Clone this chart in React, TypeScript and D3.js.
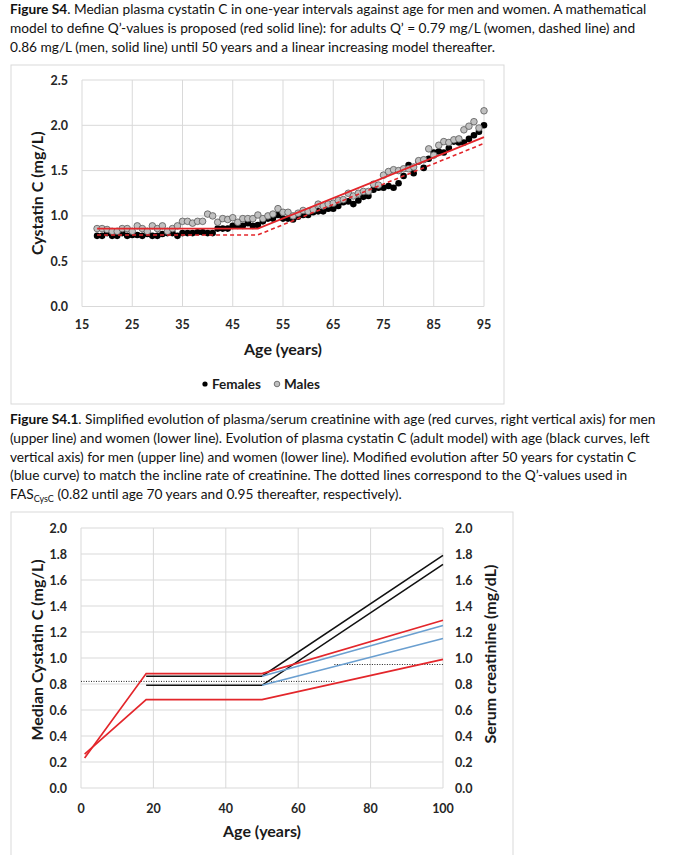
import React from 'react';
import * as d3 from 'd3';

const FONT = 'Lato, "Liberation Sans", sans-serif';
const GRID = '#d9d9d9';
const RED = '#e3262b';
const BLUE = '#6a9fd0';

// Figure S4: median cystatin C per one-year age interval, ages 18..95
const firstAge = 18;
const femalesCysC = [
  0.78, 0.78, 0.81, 0.78, 0.78, 0.81, 0.78, 0.79, 0.79, 0.78,
  0.80, 0.78, 0.78, 0.80, 0.81, 0.81, 0.78, 0.81, 0.81, 0.81,
  0.82, 0.82, 0.81, 0.81, 0.86, 0.86, 0.86, 0.89, 0.89, 0.89,
  0.92, 0.89, 0.90, 0.94, 0.97, 0.97, 1.01, 0.97, 0.97, 0.96,
  0.99, 1.01, 1.01, 1.04, 1.05, 1.05, 1.08, 1.08, 1.11, 1.15,
  1.16, 1.13, 1.17, 1.21, 1.22, 1.29, 1.31, 1.31, 1.33, 1.31,
  1.36, 1.44, 1.56, 1.47, 1.60, 1.53, 1.63, 1.70, 1.71, 1.70,
  1.75, 1.82, 1.81, 1.81, 1.85, 1.89, 1.93, 2.00,
];
const malesCysC = [
  0.86, 0.86, 0.85, 0.83, 0.83, 0.86, 0.86, 0.83, 0.89, 0.86,
  0.83, 0.89, 0.86, 0.89, 0.83, 0.86, 0.89, 0.94, 0.94, 0.92,
  0.94, 0.94, 1.02, 1.00, 0.93, 0.97, 0.96, 0.98, 0.93, 0.97,
  0.97, 0.97, 1.01, 0.97, 1.00, 1.02, 1.08, 1.04, 1.04, 1.00,
  1.03, 1.06, 1.05, 1.07, 1.13, 1.11, 1.13, 1.14, 1.17, 1.18,
  1.25, 1.22, 1.25, 1.27, 1.27, 1.35, 1.34, 1.45, 1.49, 1.51,
  1.50, 1.52, 1.52, 1.54, 1.61, 1.62, 1.74, 1.67, 1.78, 1.82,
  1.81, 1.84, 1.85, 1.95, 1.99, 2.04, 1.97, 2.16,
];
// Q' model lines [age, mg/L]
const modelMen: [number, number][] = [[18, 0.86], [50, 0.86], [95, 1.87]];
const modelWomen: [number, number][] = [[18, 0.79], [50, 0.79], [95, 1.80]];
const topXTicks = [15, 25, 35, 45, 55, 65, 75, 85, 95];
const topYTicks = [0, 0.5, 1.0, 1.5, 2.0, 2.5];

// Figure S4.1: simplified evolution with age [age, value]
const creatMen: [number, number][] = [[1, 0.23], [18, 0.88], [50, 0.88], [100, 1.29]];
const creatWomen: [number, number][] = [[1, 0.26], [18, 0.68], [50, 0.68], [100, 0.99]];
const cysMen: [number, number][] = [[18, 0.86], [50, 0.86], [100, 1.79]];
const cysWomen: [number, number][] = [[18, 0.79], [50, 0.79], [100, 1.72]];
const cysModMen: [number, number][] = [[50, 0.86], [100, 1.25]];
const cysModWomen: [number, number][] = [[50, 0.79], [100, 1.15]];
const qFasYoung: [number, number][] = [[0, 0.82], [70, 0.82]];
const qFasOld: [number, number][] = [[70, 0.95], [100, 0.95]];
const botXTicks = [0, 20, 40, 60, 80, 100];
const botYTicks = [0, 0.2, 0.4, 0.6, 0.8, 1.0, 1.2, 1.4, 1.6, 1.8, 2.0];

const caption1 = [
  'model to define Q\u2019-values is proposed (red solid line): for adults Q\u2019 = 0.79 mg/L (women, dashed line) and',
  '0.86 mg/L (men, solid line) until 50 years and a linear increasing model thereafter.',
];
const caption2 = [
  '(upper line) and women (lower line). Evolution of plasma cystatin C (adult model) with age (black curves, left',
  'vertical axis) for men (upper line) and women (lower line). Modified evolution after 50 years for cystatin C',
  '(blue curve) to match the incline rate of creatinine. The dotted lines correspond to the Q\u2019-values used in',
];

const tickStyle = { fontFamily: FONT, fontSize: 12.5, fontWeight: 700, fill: '#262626' } as const;
const titleStyle = { fontFamily: FONT, fontSize: 16, fontWeight: 700, fill: '#1a1a1a' } as const;
const capStyle = { fontFamily: FONT, fontSize: 13.7, fill: '#111' } as const;

const TopChart = () => {
  const x = d3.scaleLinear().domain([15, 95]).range([82, 484]);
  const y = d3.scaleLinear().domain([0, 2.5]).range([306.5, 80]);
  const line = d3.line<[number, number]>().x(d => x(d[0])).y(d => y(d[1]));
  return (
    <g>
      <rect x={11} y={65} width={493} height={339} fill="#fff" stroke={GRID} />
      {topYTicks.map(t => (
        <g key={t}>
          <line x1={x(15)} x2={x(95)} y1={y(t)} y2={y(t)} stroke={GRID} />
          <text x={68} y={y(t) + 4.5} textAnchor="end" {...tickStyle}>{t.toFixed(1)}</text>
        </g>
      ))}
      {topXTicks.map(t => (
        <g key={t}>
          <line x1={x(t)} x2={x(t)} y1={y(0)} y2={y(2.5)} stroke={GRID} />
          <text x={x(t)} y={329} textAnchor="middle" {...tickStyle}>{t}</text>
        </g>
      ))}
      {femalesCysC.map((v, i) => (
        <circle key={'f' + i} cx={x(firstAge + i)} cy={y(v)} r={3.3} fill="#000" />
      ))}
      {malesCysC.map((v, i) => (
        <circle key={'m' + i} cx={x(firstAge + i)} cy={y(v)} r={3.3} fill="#c0c0c0" stroke="#595959" strokeWidth={0.8} />
      ))}
      <path d={line(modelMen) || ''} fill="none" stroke={RED} strokeWidth={1.8} />
      <path d={line(modelWomen) || ''} fill="none" stroke={RED} strokeWidth={1.6} strokeDasharray="4,3" />
      <text x={283} y={355} textAnchor="middle" {...titleStyle}>Age (years)</text>
      <text transform={`translate(43,${(y(0) + y(2.5)) / 2}) rotate(-90)`} textAnchor="middle" {...titleStyle}>Cystatin C (mg/L)</text>
      <circle cx={205} cy={384} r={2.6} fill="#000" />
      <text x={212} y={389} {...titleStyle} fontSize={13.5}>Females</text>
      <circle cx={277} cy={384} r={2.8} fill="#c0c0c0" stroke="#595959" strokeWidth={0.8} />
      <text x={284} y={389} {...titleStyle} fontSize={13.5}>Males</text>
    </g>
  );
};

const BottomChart = () => {
  const x = d3.scaleLinear().domain([0, 100]).range([81, 443]);
  const y = d3.scaleLinear().domain([0, 2]).range([788, 528]);
  const line = d3.line<[number, number]>().x(d => x(d[0])).y(d => y(d[1]));
  return (
    <g>
      <rect x={11} y={512} width={502} height={350} fill="#fff" stroke={GRID} />
      {botYTicks.map(t => (
        <g key={t}>
          <line x1={x(0)} x2={x(100)} y1={y(t)} y2={y(t)} stroke={GRID} />
          <text x={67} y={y(t) + 4.5} textAnchor="end" {...tickStyle}>{t.toFixed(1)}</text>
          <text x={455} y={y(t) + 4.5} textAnchor="start" {...tickStyle}>{t.toFixed(1)}</text>
        </g>
      ))}
      {botXTicks.map(t => (
        <g key={t}>
          <line x1={x(t)} x2={x(t)} y1={y(0)} y2={y(2)} stroke={GRID} />
          <text x={x(t)} y={813} textAnchor="middle" {...tickStyle}>{t}</text>
        </g>
      ))}
      <path d={line(qFasYoung) || ''} fill="none" stroke="#222" strokeWidth={1} strokeDasharray="1,1.5" />
      <path d={line(qFasOld) || ''} fill="none" stroke="#222" strokeWidth={1} strokeDasharray="1,1.5" />
      <path d={line(cysMen) || ''} fill="none" stroke="#111" strokeWidth={1.6} />
      <path d={line(cysWomen) || ''} fill="none" stroke="#111" strokeWidth={1.6} />
      <path d={line(cysModMen) || ''} fill="none" stroke={BLUE} strokeWidth={1.6} />
      <path d={line(cysModWomen) || ''} fill="none" stroke={BLUE} strokeWidth={1.6} />
      <path d={line(creatMen) || ''} fill="none" stroke={RED} strokeWidth={1.7} />
      <path d={line(creatWomen) || ''} fill="none" stroke={RED} strokeWidth={1.7} />
      <text x={262} y={837} textAnchor="middle" {...titleStyle}>Age (years)</text>
      <text transform={`translate(43,${(y(0) + y(2)) / 2 - 8}) rotate(-90)`} textAnchor="middle" {...titleStyle}>Median Cystatin C (mg/L)</text>
      <text transform={`translate(496,${(y(0) + y(2)) / 2 - 4}) rotate(-90)`} textAnchor="middle" {...titleStyle}>Serum creatinine (mg/dL)</text>
    </g>
  );
};

export default function App() {
  return (
    <div style={{ position: 'absolute', left: 0, top: 0 }}>
      <svg width={688} height={855} style={{ display: 'block', background: '#fff' }}>
        <text x={10} y={14} {...capStyle}>
          <tspan fontWeight={700}>Figure S4</tspan>
          <tspan>. Median plasma cystatin C in one-year intervals against age for men and women. A mathematical</tspan>
        </text>
        {caption1.map((s, i) => (
          <text key={s} x={10} y={33 + i * 18.6} {...capStyle}>{s}</text>
        ))}
        <TopChart />
        <text x={10} y={424} {...capStyle}>
          <tspan fontWeight={700}>Figure S4.1</tspan>
          <tspan>. Simplified evolution of plasma/serum creatinine with age (red curves, right vertical axis) for men</tspan>
        </text>
        {caption2.map((s, i) => (
          <text key={s} x={10} y={443 + i * 18.7} {...capStyle}>{s}</text>
        ))}
        <text x={10} y={499} {...capStyle}>
          <tspan>FAS</tspan>
          <tspan fontSize={9} dy={3}>CysC</tspan>
          <tspan dy={-3}> (0.82 until age 70 years and 0.95 thereafter, respectively).</tspan>
        </text>
        <BottomChart />
      </svg>
    </div>
  );
}
